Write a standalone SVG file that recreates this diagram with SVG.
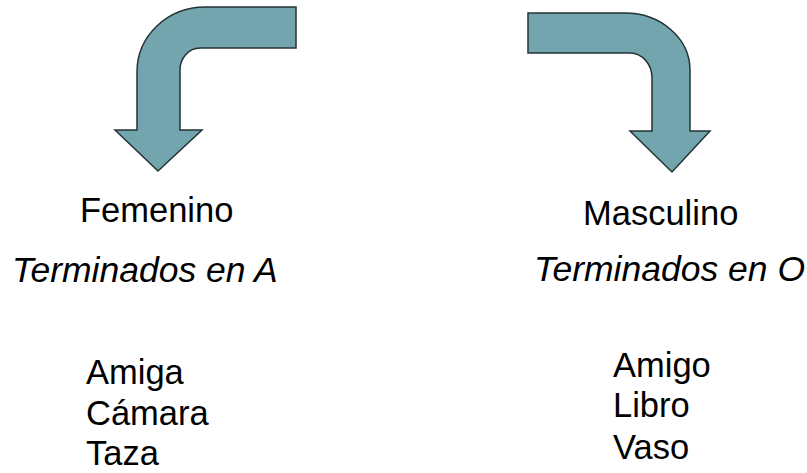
<svg xmlns="http://www.w3.org/2000/svg" width="807" height="473" viewBox="0 0 807 473">
<style>
.arrow{fill:#72A5AE;stroke:#253336;stroke-width:1.5;stroke-linejoin:miter}
.t{font-family:"Liberation Sans",Arial,sans-serif;font-size:34.5px;fill:#000}
.i{font-style:italic;font-size:35.5px}
</style>
<rect width="807" height="473" fill="#fff"/>
<g id="connectors">
<path id="arrow-left" class="arrow" d="M296,7 L205,7 A68,65 0 0 0 137,72 L137,130 L115,130 L158,171 L202,130 L180,130 L180,70 A20,22 0 0 1 200,48 L296,48 Z"/>
<path id="arrow-right" class="arrow" d="M528,13 L625,13 A65,57 0 0 1 690,70 L690,131 L710,131 L672,172 L630,131 L652,131 L652,78 A22,25 0 0 0 630,53 L528,53 Z"/>
</g>
<g id="femenino">
<text class="t" x="80" y="222">Femenino</text>
<text class="t i" x="12" y="282">Terminados en A</text>
</g>
<g id="masculino">
<text class="t" x="583" y="225">Masculino</text>
<text class="t i" x="534" y="281">Terminados en O</text>
</g>
<g id="femenino-list">
<text class="t" x="86" y="384">Amiga</text>
<text class="t" x="86" y="425">Cámara</text>
<text class="t" x="86" y="465">Taza</text>
</g>
<g id="masculino-list">
<text class="t" x="613" y="377">Amigo</text>
<text class="t" x="613" y="417">Libro</text>
<text class="t" x="613" y="459">Vaso</text>
</g>
</svg>
